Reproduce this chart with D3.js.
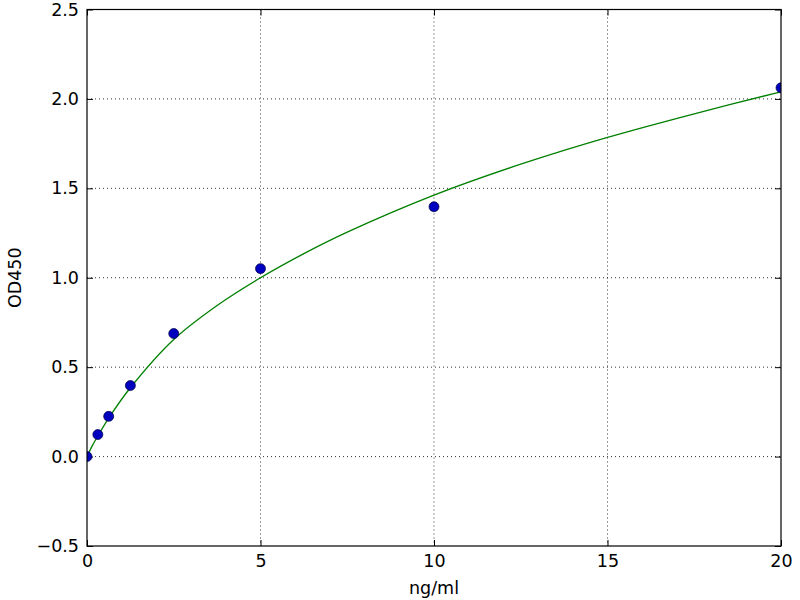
<!DOCTYPE html>
<html>
<head>
<meta charset="utf-8">
<script src="https://cdn.jsdelivr.net/npm/d3@7"></script>
<style>
  body { margin: 0; background: #fff; }
  text { font-family: "DejaVu Sans", sans-serif; }
</style>
</head>
<body>
<svg width="800" height="600"></svg>
<script>
// standard points (concentration, OD)
var conc = [0, 0.3125, 0.625, 1.25, 2.5, 5, 10, 20];
var od = [0.0, 0.123, 0.225, 0.397, 0.688, 1.051, 1.397, 2.062];

// fitted curve
var fitX = [0, 0.15, 0.3125, 0.625, 1.25, 2.5, 3.75, 5, 6.25, 7.5, 10, 12.5, 15, 17.5, 20];
var fitY = [0.0, 0.06, 0.115, 0.215, 0.385, 0.655, 0.845, 1.0, 1.135, 1.255, 1.462, 1.635, 1.785, 1.917, 2.04];

var xTicks = [0, 5, 10, 15, 20];
var yTicks = [-0.5, 0.0, 0.5, 1.0, 1.5, 2.0, 2.5];

var svg = d3.select("svg"),
    margin = {left: 87, top: 9.5, right: 19, bottom: 54},
    width = 800 - margin.left - margin.right,
    height = 600 - margin.top - margin.bottom;

var x = d3.scaleLinear().domain([0, 20]).range([0, width]);
var y = d3.scaleLinear().domain([-0.5, 2.5]).range([height, 0]);

var g = svg.append("g")
    .attr("transform", "translate(" + margin.left + "," + margin.top + ")");

g.append("clipPath").attr("id", "clip")
  .append("rect").attr("width", width).attr("height", height);

// grid
g.append("g").selectAll("line")
    .data(xTicks.slice(1, -1))
    .enter().append("line")
    .attr("x1", function (d) { return x(d); })
    .attr("x2", function (d) { return x(d); })
    .attr("y1", 0).attr("y2", height)
    .attr("stroke", "#000").attr("stroke-width", 0.8)
    .attr("stroke-dasharray", "1,3");

g.append("g").selectAll("line")
    .data(yTicks.slice(1, -1))
    .enter().append("line")
    .attr("y1", function (d) { return y(d); })
    .attr("y2", function (d) { return y(d); })
    .attr("x1", 0).attr("x2", width)
    .attr("stroke", "#000").attr("stroke-width", 0.8)
    .attr("stroke-dasharray", "1,3");

// axes, ticks pointing inward
var fmtY = function (d) { return d < 0 ? "\u2212" + Math.abs(d).toFixed(1) : d.toFixed(1); };

var xAxis = g.append("g")
    .attr("transform", "translate(0," + height + ")")
    .call(d3.axisBottom(x).tickValues(xTicks).tickSize(-6).tickPadding(9).tickFormat(d3.format("d")));
var xTop = g.append("g")
    .call(d3.axisTop(x).tickValues(xTicks).tickSize(-6).tickFormat(""));
var yAxis = g.append("g")
    .call(d3.axisLeft(y).tickValues(yTicks).tickSize(-6).tickPadding(8).tickFormat(fmtY));
var yRight = g.append("g")
    .attr("transform", "translate(" + width + ",0)")
    .call(d3.axisRight(y).tickValues(yTicks).tickSize(-6).tickFormat(""));

[xAxis, xTop, yAxis, yRight].forEach(function (a) {
    a.select(".domain").remove();
    a.selectAll("line").attr("stroke", "#000").attr("stroke-width", 1);
    a.selectAll("text").attr("font-size", 17.5).attr("fill", "#000")
        .style("font-family", "DejaVu Sans, sans-serif");
});

// fitted curve
var line = d3.line()
    .x(function (d) { return x(d[0]); })
    .y(function (d) { return y(d[1]); })
    .curve(d3.curveCatmullRom);

g.append("path")
    .datum(fitX.map(function (v, i) { return [v, fitY[i]]; }))
    .attr("clip-path", "url(#clip)")
    .attr("fill", "none")
    .attr("stroke", "#008000")
    .attr("stroke-width", 1.3)
    .attr("d", line);

// points
g.append("g").attr("clip-path", "url(#clip)")
  .selectAll("circle")
    .data(conc)
    .enter().append("circle")
    .attr("cx", function (d) { return x(d); })
    .attr("cy", function (d, i) { return y(od[i]); })
    .attr("r", 5)
    .attr("fill", "#0000bf")
    .attr("stroke", "#000040")
    .attr("stroke-width", 0.7);

// frame
g.append("rect")
    .attr("width", width).attr("height", height)
    .attr("fill", "none").attr("stroke", "#000").attr("stroke-width", 1.2);

// labels
svg.append("text")
    .attr("x", margin.left + width / 2)
    .attr("y", 594)
    .attr("text-anchor", "middle")
    .attr("font-size", 17.5)
    .text("ng/ml");

svg.append("text")
    .attr("transform", "translate(21," + (margin.top + height / 2) + ") rotate(-90)")
    .attr("text-anchor", "middle")
    .attr("font-size", 17.5)
    .text("OD450");
</script>
</body>
</html>
